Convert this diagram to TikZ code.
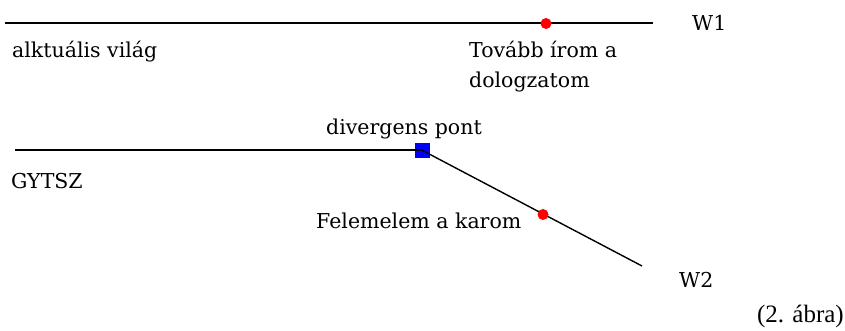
\documentclass[tikz,border=0pt]{standalone}
\usepackage{fontspec}
\setmainfont{Liberation Serif}
\newfontfamily\lblfont{DejaVu Serif}
\begin{document}
\begin{tikzpicture}[x=1pt,y=-1pt,
  lbl/.style={font=\lblfont\fontsize{20.5}{30}\selectfont, inner sep=0pt, anchor=base west},
  reddot/.style={circle, fill=red, draw=none, minimum size=11pt, inner sep=0pt},
  bluesq/.style={rectangle, fill=blue, draw=none, minimum size=15pt, inner sep=0pt},
  world/.style={draw=black, line width=2pt},
  branch/.style={draw=black, line width=1.4pt}]
\useasboundingbox (0,0) rectangle (845,331);
% top world
\coordinate (t0) at (5,23.5);
\coordinate (t1) at (653,23.5);
\draw[world] (t0) -- (t1);
\node[reddot] (e1) at (546,23.5) {};
\node[lbl] (w1) at (692,31) {W1};
\node[lbl] (akt) at (12,58) {alktuális világ};
\node[lbl, align=left] (tov) at (469,88) {Tovább írom a\\dologzatom};
% lower world
\coordinate (g0) at (15,150.5);
\node[bluesq] (div) at (422.5,150.5) {};
\coordinate (g1) at (642,266);
\draw[world] (g0) -- (div.center);
\draw[branch] (div.center) -- (g1);
\node[reddot] (e2) at (543,214.5) {};
\node[lbl] (dp) at (326,135) {divergens pont};
\node[lbl] (gy) at (11,188) {GYTSZ};
\node[lbl] (fel) at (316,228) {Felemelem a karom};
\node[lbl] (w2) at (679,287) {W2};
\node[font=\fontsize{25}{28}\selectfont, inner sep=0pt, anchor=base east] (abra) at (844,322) {(2. ábra)};
\end{tikzpicture}
\end{document}
